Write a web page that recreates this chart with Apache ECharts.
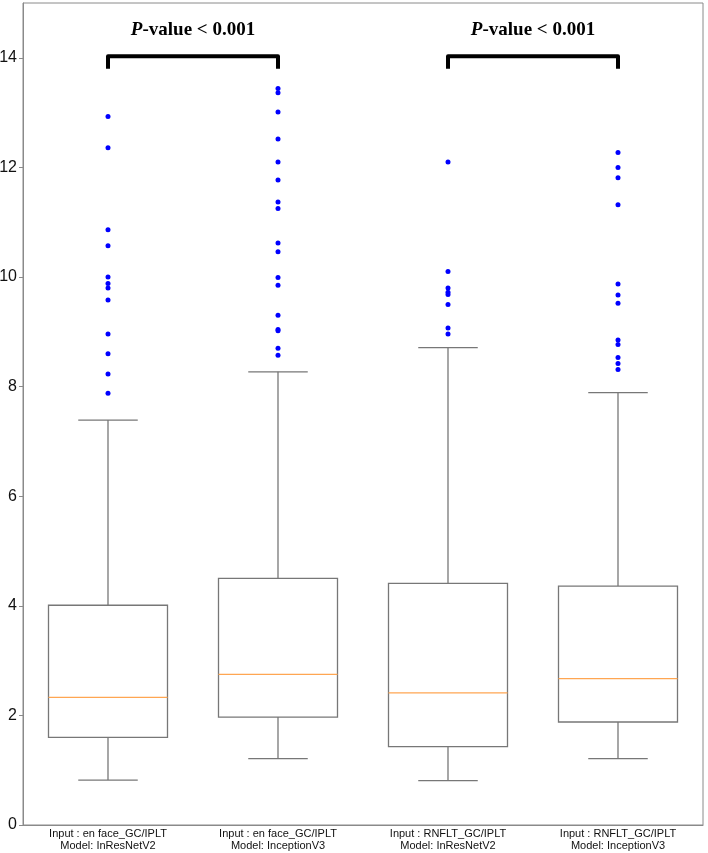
<!DOCTYPE html>
<html><head><meta charset="utf-8">
<script src="https://cdn.jsdelivr.net/npm/echarts@6/dist/echarts.min.js"></script>
<style>html,body{margin:0;padding:0;background:#fff}#c{width:708px;height:853px}</style>
</head><body><div id="c"></div>
<script>
// ---- data ----
const categories = [
  'Input : en face_GC/IPLT\nModel: InResNetV2',
  'Input : en face_GC/IPLT\nModel: InceptionV3',
  'Input : RNFLT_GC/IPLT\nModel: InResNetV2',
  'Input : RNFLT_GC/IPLT\nModel: InceptionV3'
];
const whiskerLow  = [0.82, 1.21, 0.81, 1.21];
const q1          = [1.60, 1.97, 1.43, 1.88];
const medians     = [2.33, 2.75, 2.41, 2.67];
const q3          = [4.01, 4.50, 4.41, 4.36];
const whiskerHigh = [7.39, 8.27, 8.71, 7.89];

const outliers1 = [12.93, 12.36, 10.86, 10.57, 10.00, 9.88, 9.80, 9.58, 8.96, 8.60, 8.23, 7.88];
const outliers2 = [13.44, 13.36, 13.01, 12.52, 12.10, 11.77, 11.37, 11.25, 10.62, 10.46, 9.99, 9.85, 9.30, 9.04, 9.02, 8.70, 8.57];
const outliers3 = [12.10, 10.10, 9.80, 9.72, 9.68, 9.50, 9.07, 8.96];
const outliers4 = [12.27, 12.00, 11.81, 11.32, 9.87, 9.67, 9.52, 8.85, 8.77, 8.53, 8.42, 8.31];

const yTicks = [0, 2, 4, 6, 8, 10, 12, 14];

const bracketFrom = [0, 2];
const bracketTo   = [1, 3];
const bracketTop  = [14.03, 14.03];
const bracketLow  = [13.8, 13.8];
const bracketTextY = [14.5, 14.5];
const pItalic = 'P';
const pRest = '-value < 0.001';

// ---- build ----
const boxData = categories.map((c, i) => [i, whiskerLow[i], q1[i], medians[i], q3[i], whiskerHigh[i]]);
const allOutliers = [outliers1, outliers2, outliers3, outliers4];
const outlierData = [];
allOutliers.forEach((arr, i) => arr.forEach(v => outlierData.push([i, v])));
const bracketData = bracketFrom.map((f, k) => [f, bracketTo[k], bracketTop[k], bracketLow[k], bracketTextY[k]]);

const chart = echarts.init(document.getElementById('c'));
const boxColor = '#777777';
chart.setOption({
  animation: false,
  grid: { left: 23, right: 5, top: 3, bottom: 28, show: true, borderColor: '#8a8a8a', borderWidth: 1,
    backgroundColor: 'transparent', outerBoundsMode: 'none', containLabel: false },
  xAxis: {
    type: 'category', data: categories, boundaryGap: true,
    axisLine: { lineStyle: { color: '#8a8a8a' } },
    axisTick: { alignWithLabel: true, length: 4, lineStyle: { color: '#8a8a8a' } },
    axisLabel: { fontFamily: 'Liberation Sans', fontSize: 11, lineHeight: 12, color: '#111', margin: 3, interval: 0 },
    splitLine: { show: false }
  },
  yAxis: {
    type: 'value', min: 0, max: 15, interval: 2,
    axisLine: { show: true, lineStyle: { color: '#8a8a8a' } },
    axisTick: { show: true, length: 4, lineStyle: { color: '#8a8a8a' } },
    axisLabel: { fontFamily: 'Liberation Sans', fontSize: 16, color: '#111', margin: 6,
      showMaxLabel: false,
      formatter: v => yTicks.indexOf(v) >= 0 ? String(v) : '' },
    splitLine: { show: false }
  },
  series: [
    {
      type: 'custom', data: boxData, encode: { x: 0, y: [1, 2, 3, 4, 5] },
      renderItem: function (params, api) {
        const i = api.value(0);
        const band = api.size([1, 0])[0];
        const bw = band * 0.70, cw = bw * 0.5;
        const pLo = api.coord([i, api.value(1)]);
        const pQ1 = api.coord([i, api.value(2)]);
        const pMed = api.coord([i, api.value(3)]);
        const pQ3 = api.coord([i, api.value(4)]);
        const pHi = api.coord([i, api.value(5)]);
        const x = pLo[0];
        const st = { stroke: boxColor, lineWidth: 1.3, fill: null };
        return {
          type: 'group',
          children: [
            { type: 'line', shape: { x1: x, y1: pLo[1], x2: x, y2: pQ1[1] }, style: st },
            { type: 'line', shape: { x1: x, y1: pQ3[1], x2: x, y2: pHi[1] }, style: st },
            { type: 'line', shape: { x1: x - cw / 2, y1: pLo[1], x2: x + cw / 2, y2: pLo[1] }, style: st },
            { type: 'line', shape: { x1: x - cw / 2, y1: pHi[1], x2: x + cw / 2, y2: pHi[1] }, style: st },
            { type: 'rect', shape: { x: x - bw / 2, y: pQ3[1], width: bw, height: pQ1[1] - pQ3[1] }, style: { stroke: boxColor, lineWidth: 1.3, fill: 'transparent' } },
            { type: 'line', shape: { x1: x - bw / 2, y1: pMed[1], x2: x + bw / 2, y2: pMed[1] }, style: { stroke: '#ffa652', lineWidth: 1.2 } }
          ]
        };
      },
      z: 2
    },
    {
      type: 'scatter', data: outlierData, symbol: 'circle', symbolSize: 5,
      itemStyle: { color: '#0000ff', opacity: 1 }, z: 3
    },
    {
      type: 'custom', data: bracketData, encode: { x: [0, 1], y: [2, 3, 4] },
      renderItem: function (params, api) {
        const a = api.coord([api.value(0), api.value(2)]);
        const b = api.coord([api.value(1), api.value(2)]);
        const aLow = api.coord([api.value(0), api.value(3)]);
        const ty = api.coord([api.value(0), api.value(4)])[1];
        const tx = (a[0] + b[0]) / 2;
        return {
          type: 'group',
          children: [
            { type: 'polyline', shape: { points: [[a[0], aLow[1]], [a[0], a[1]], [b[0], b[1]], [b[0], aLow[1]]] },
              style: { stroke: '#000', lineWidth: 4, fill: null, lineJoin: 'round', lineCap: 'butt' } },
            { type: 'text', x: tx, y: ty,
              style: { text: '{i|' + pItalic + '}{n|' + pRest + '}', align: 'center', verticalAlign: 'middle',
                rich: {
                  i: { fontFamily: 'Liberation Serif', fontWeight: 'bold', fontStyle: 'italic', fontSize: 19, fill: '#000' },
                  n: { fontFamily: 'Liberation Serif', fontWeight: 'bold', fontSize: 19, fill: '#000' }
                } } }
          ]
        };
      },
      z: 4
    }
  ]
});
</script></body></html>
